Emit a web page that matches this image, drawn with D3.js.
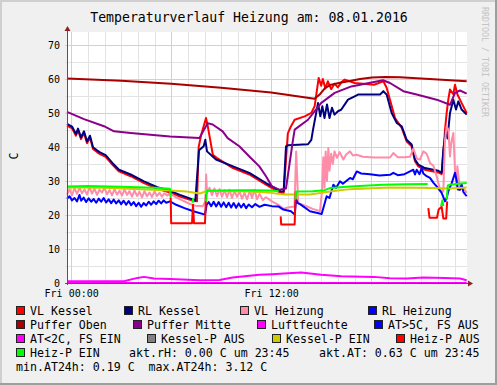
<!DOCTYPE html>
<meta charset="utf-8">
<style>
body { margin: 0; background: #f0f0f0; }
svg text { font-family: "DejaVu Sans Mono", monospace; fill: #000; }
.legend text { font-size: 11.6px; }
.grid line { shape-rendering: crispEdges; }
.grid .domain { display: none; }
.series { fill: none; stroke-width: 2; stroke-linejoin: round; }
</style>
<svg id="chart" width="497" height="385"></svg>
<script src="https://d3js.org/d3.v7.min.js"></script>
<script>

// hours since 00:00, value in C
var vlKessel = [[-0.25,46.3],[0.05,45.5],[0.29,43.3],[0.41,44.9],[0.59,42.3],[0.77,44.1],[0.95,41.1],[1.13,42.8],[1.31,39.4],[1.55,38.5],[1.73,37.9],[2.07,37.1],[2.47,34.8],[2.87,32.8],[3.57,31.4],[4.37,29.4],[5.17,27.7],[5.93,26.6],[6.53,25.4],[7.33,24.2],[7.55,24.0],[7.65,40.0],[7.8,43.5],[8.09,48.5],[8.2,46],[8.5,37.7],[8.73,36.8],[9.71,33.8],[10.69,31.9],[11.69,28.9],[12.05,27.9],[12.61,26.4],[12.75,26.5],[13.0,44.0],[13.19,46.1],[13.41,48.0],[14.01,49.0],[14.41,50.0],[14.61,52],[14.85,60.3],[15.0,58],[15.1,60.0],[15.25,57.2],[15.4,59.3],[15.6,57.0],[15.8,58.6],[16.0,57.5],[16.21,59.0],[16.41,59.8],[17.01,58.8],[18.17,58.3],[18.73,59.3],[18.93,57.4],[19.13,53.9],[19.43,48.5],[19.83,45.6],[20.13,41.6],[20.43,40.2],[20.63,35.8],[20.83,34.3],[21.23,33.3],[21.73,32.8],[22.03,32.5],[22.23,32.0],[22.33,38],[22.43,45],[22.53,50.0],[22.63,54],[22.73,56.9],[22.93,55.5],[23.03,58.3],[23.17,55.5],[23.43,52.9],[23.73,50.0]];

var rlKessel = [[-0.25,46.8],[0.05,46.0],[0.29,43.8],[0.41,45.4],[0.59,42.8],[0.77,44.6],[0.95,41.6],[1.13,43.3],[1.31,39.9],[1.55,39.0],[1.73,38.4],[2.07,37.6],[2.47,35.3],[2.87,33.3],[3.57,31.9],[4.37,29.9],[5.17,28.2],[5.93,27.1],[6.53,25.9],[7.33,24.5],[7.45,24.2],[7.67,39.0],[7.95,40.2],[8.05,42.1],[8.15,38.7],[8.69,36.3],[9.71,34.3],[10.69,32.4],[11.69,29.4],[12.05,28.4],[12.61,26.9],[12.75,27.0],[12.89,40.2],[13.01,40.5],[14.21,40.8],[14.41,42.1],[14.51,45],[14.81,52.9],[14.95,49],[15.07,52],[15.2,48.5],[15.35,52.5],[15.5,48.5],[15.65,51.5],[15.8,49.5],[16.01,50.5],[16.21,51.0],[16.61,53.9],[17.01,54.9],[17.21,55.4],[18.53,55.4],[18.73,56.4],[18.93,55.4],[19.23,50.0],[19.53,47.1],[19.83,46.1],[20.13,42.1],[20.43,40.7],[20.63,36.3],[20.83,34.8],[21.23,33.8],[21.73,33.3],[22.03,33.0],[22.23,32.4],[22.33,39.2],[22.49,45.1],[22.58,42.5],[22.73,50.0],[22.93,53.9],[23.09,51.0],[23.23,53.4],[23.43,51.0],[23.73,49.5]];

var vlHeizung = [[-0.25,26.0],[-0.1,27.6],[0.05,25.8],[0.2,27.9],[0.35,26.2],[0.5,28.0],[0.65,26.4],[0.8,27.5],[0.95,26.0],[1.1,28.1],[1.25,26.3],[1.4,27.7],[1.55,25.9],[1.7,27.4],[1.85,26.6],[2.0,28.0],[2.15,26.1],[2.3,27.3],[2.45,25.8],[2.6,27.6],[2.75,26.0],[2.9,27.1],[3.05,25.7],[3.2,27.5],[3.35,25.9],[3.5,27.0],[3.65,25.4],[3.8,27.2],[3.95,25.6],[4.1,26.8],[4.25,25.2],[4.4,27.0],[4.55,25.5],[4.7,26.6],[4.85,25.3],[5.0,26.9],[5.15,25.6],[5.3,26.5],[5.45,25.4],[5.6,26.4],[5.75,25.7],[5.93,26.3],[6.3,25.2],[6.7,24.2],[7.1,23.3],[7.45,22.7],[7.9,22.6],[8.05,24],[8.1,31.9],[8.15,26.5],[8.3,28.0],[8.45,25.8],[8.6,27.8],[8.75,25.5],[8.9,27.6],[9.05,25.4],[9.2,27.3],[9.35,25.2],[9.5,27.4],[9.65,25.0],[9.8,27.0],[9.95,25.3],[10.1,26.9],[10.25,24.8],[10.4,26.5],[10.55,24.6],[10.73,27.2],[10.85,25.0],[11.0,27.4],[11.15,24.6],[11.3,26.2],[11.5,24.4],[11.69,25.2],[12.05,24.0],[12.43,23.0],[12.73,21.8],[13.0,22.2],[13.4,22.5],[13.5,38.7],[13.57,30],[13.62,23.5],[14.0,22.8],[14.5,21.8],[14.93,21.1],[15.05,27],[15.13,37],[15.2,28],[15.27,38.7],[15.35,30],[15.43,39.7],[15.5,33],[15.6,38],[15.7,35],[15.8,38.7],[15.95,36.8],[16.1,38.5],[16.33,36.3],[16.5,37.8],[16.73,38.7],[16.9,37.5],[17.13,37.7],[17.5,37.1],[18.2,36.9],[19.13,36.9],[19.33,38.2],[19.6,37.0],[20.0,37.0],[20.33,37.1],[20.53,39.5],[20.75,36.5],[20.93,36.3],[21.13,38.7],[21.33,38.0],[21.53,35.3],[21.73,34.5],[21.93,31.4],[22.13,27.4],[22.33,26.9],[22.43,42.1],[22.53,46.1],[22.63,45.1],[22.73,37.2],[22.8,41],[22.93,44.1],[23.03,33.3],[23.13,28.4],[23.17,34.3],[23.33,27.4],[23.53,28],[23.73,26.5]];

var rlHeizung = [[-0.25,24.8],[-0.1,25.5],[0.05,24.3],[0.2,25.0],[0.35,24.0],[0.5,25.9],[0.6,24.2],[0.75,25.1],[0.9,23.8],[1.05,24.9],[1.2,23.9],[1.35,24.7],[1.5,23.6],[1.65,24.8],[1.8,23.9],[1.95,25.0],[2.1,23.7],[2.25,24.6],[2.4,23.5],[2.55,24.5],[2.7,23.4],[2.85,24.3],[3.0,23.2],[3.15,24.2],[3.3,23.0],[3.45,24.1],[3.6,22.9],[3.75,23.8],[3.9,22.6],[4.05,23.6],[4.2,22.4],[4.35,23.5],[4.5,22.8],[4.65,23.9],[4.8,23.0],[4.95,24.0],[5.1,23.2],[5.25,24.2],[5.4,23.4],[5.55,24.3],[5.7,23.6],[5.93,24.0],[6.3,23.0],[6.8,22.0],[7.33,21.1],[8.03,20.1],[8.13,23.0],[8.25,23.8],[8.4,22.6],[8.55,23.9],[8.7,22.5],[8.85,23.8],[9.0,22.4],[9.15,23.7],[9.3,22.3],[9.45,23.6],[9.6,22.2],[9.75,23.5],[9.9,22.1],[10.05,23.4],[10.2,22.2],[10.35,23.3],[10.5,22.0],[10.65,23.1],[10.85,22.3],[11.05,23.2],[11.3,22.4],[11.6,23.0],[12.05,22.6],[12.43,22.5],[12.73,21.6],[13.19,21.1],[13.41,20.1],[13.5,24.5],[13.6,23.5],[13.73,23.2],[14.33,21.1],[15.03,20.3],[15.33,25.5],[15.5,25.0],[15.73,28.9],[15.9,28.0],[16.13,29.9],[16.3,29.2],[16.73,30.9],[16.9,30.5],[17.13,32.8],[17.4,32.2],[17.93,32.0],[18.5,31.6],[19.13,31.8],[19.33,32.4],[19.6,31.7],[20.0,32.0],[20.33,32.8],[20.53,33.3],[20.63,31.9],[20.73,33.3],[20.9,32.0],[21.03,33.8],[21.13,32.2],[21.33,31.4],[21.53,30.9],[21.73,29.5],[21.93,28.4],[22.23,26.5],[22.43,24.0],[22.53,25.0],[22.63,27.0],[22.83,29.3],[23.03,32.4],[23.13,30],[23.2,27.5],[23.33,27.4],[23.43,29],[23.53,26.8],[23.73,25.5]];

var pufferOben = [[-0.25,60.1],[3,59.5],[6,58.6],[9,57.4],[12,56.0],[14.6,54.2],[14.93,55.5],[15.23,57.3],[15.53,58.2],[16.13,58.9],[16.73,59.4],[17.33,60.0],[18.05,60.4],[18.83,60.6],[19.73,60.5],[21.5,60.0],[23.73,59.3]];

var pufferMitte = [[-0.25,50.3],[0.77,48.2],[1.97,46.1],[2.57,44.6],[3.57,44.1],[5.93,43.1],[7.69,42.6],[8.19,47.0],[8.49,46.6],[9.09,44.6],[9.39,42.6],[10.09,40.2],[10.69,37.2],[11.29,34.3],[11.69,31.4],[12.05,28.4],[12.51,27.4],[12.89,27.8],[13.31,42.1],[13.41,45.1],[14.21,48.0],[14.99,52.9],[15.81,55.9],[16.81,57.8],[18.17,59.1],[18.71,59.6],[19.13,58.8],[19.93,56.4],[20.73,55.4],[21.93,53.9],[22.73,52.4],[23.03,55.9],[23.33,56.6],[23.73,55.7]];

var luftfeuchte = [[-0.25,0],[23.73,0]];

var atKalt = [[-0.25,0.5],[3.17,0.5],[3.97,1.5],[4.37,1.8],[4.97,1.3],[5.93,1.2],[7.73,0.8],[8.9,0.9],[9.69,1.6],[11.29,2.4],[12.05,2.6],[13.01,2.9],[13.81,3.1],[15.0,2.4],[16.21,2.0],[18.17,1.8],[19.13,1.4],[20.13,1.3],[21.13,1.6],[22.43,1.5],[23.33,1.3],[23.73,0.8]];

var kesselPEin = [[-0.25,28.1],[2,28.0],[4.5,27.5],[5.93,27.2],[6.93,26.9],[7.73,26.3],[8.15,27.1],[9.5,27.0],[10.73,26.9],[12.0,26.5],[12.73,26.0],[14.33,26.0],[15.53,26.9],[16.73,27.6],[19.13,28.1],[20.73,28.0],[22.73,27.8],[23.73,28.1]];

var heizPAus = [[5.97,25.0],[6.0,17.6],[7.25,17.6],[7.31,23.0],[7.37,17.6],[8.03,17.6],[8.09,26.0],[8.1,null],
  [12.57,19.6],[12.6,17.2],[13.41,17.2],[13.47,26.9],[13.5,null],
  [21.43,22.0],[21.5,19.2],[21.95,19.2],[22.05,21.6],[22.23,22.4],[22.33,19.0],[22.5,19.0],[22.56,24]];

var heizPEin = [[-0.25,28.4],[1,28.5],[3,28.3],[5,28.0],[5.93,27.7],[5.97,25.0],[6.0,null],
  [7.28,23.6],[7.31,24.8],[7.34,23.6],[7.4,null],
  [8.09,24.0],[8.15,27.1],[9,27.2],[10,27.3],[11,27.3],[12,27.2],[12.45,27.0],[12.5,null],
  [13.45,24.5],[13.5,26.9],[14.5,27.0],[15.2,27.3],[15.53,27.9],[16.73,28.4],[18.7,28.9],[20,29.0],[21.39,29.1],[21.45,null],
  [22.2,22.6],[22.27,24.3],[22.33,22.6],[22.4,null],
  [22.53,24.5],[22.6,28.7],[22.73,28.9],[23.2,29.2],[23.73,29.4]];

var legendLabels = ["VL Kessel","RL Kessel","VL Heizung","RL Heizung",
  "Puffer Oben","Puffer Mitte","Luftfeuchte","AT>5C, FS AUS",
  "AT<2C, FS EIN","Kessel-P AUS","Kessel-P EIN","Heiz-P AUS",
  "Heiz-P EIN"];
var legendColors = ["#ff0000","#000080","#ff8ca8","#0000ff",
  "#a80000","#8b008b","#ff00ff","#0000ff",
  "#ff00ff","#808080","#cccc00","#ff0000",
  "#00ff00"];
var infoTexts = ["akt.rH: 0.00 C um 23:45", "akt.AT: 0.63 C um 23:45",
  "min.AT24h: 0.19 C  max.AT24h: 3.12 C"];

var yTicks = [0, 10, 20, 30, 40, 50, 60, 70];
var xLabelHours = [0, 12];
var xLabels = ["Fri 00:00", "Fri 12:00"];

var title = "Temperaturverlauf Heizung am: 08.01.2016";

// ---- layout
var W = 497, H = 385;
var plotL = 67, plotR = 467, plotT = 32, plotB = 283;

var svg = d3.select("#chart");

svg.append("rect").attr("width", W).attr("height", H).attr("fill", "#f0f0f0");
// 3d frame
svg.append("rect").attr("x", 0).attr("y", 0).attr("width", W).attr("height", 2).attr("fill", "#cfcfcf");
svg.append("rect").attr("x", 0).attr("y", 0).attr("width", 2).attr("height", H).attr("fill", "#cfcfcf");
svg.append("rect").attr("x", 0).attr("y", H - 2).attr("width", W).attr("height", 2).attr("fill", "#9e9e9e");
svg.append("rect").attr("x", W - 2).attr("y", 0).attr("width", 2).attr("height", H).attr("fill", "#9e9e9e");

svg.append("rect").attr("x", plotL).attr("y", plotT)
    .attr("width", plotR - plotL).attr("height", plotB - plotT).attr("fill", "#fff");

var x = d3.scaleLinear().domain([-0.25, 23.75]).range([plotL, plotR]);
var y = d3.scaleLinear().domain([0, 73.8]).range([plotB, plotT]);

// grid
var minorY = d3.range(5, 75, 10);
var minorX = d3.range(1, 24).filter(function(h) { return h % 6 != 0; });
var majorX = [0, 6, 12, 18];

function grid(axis, transform, color) {
  var g = svg.append("g").attr("class", "grid").attr("transform", transform).call(axis);
  g.selectAll("line").attr("stroke", color);
}
grid(d3.axisLeft(y).tickValues(minorY).tickSize(plotR - plotL + 2).tickFormat(""),
     "translate(" + plotR + ",0)", "#e3e3e3");
grid(d3.axisBottom(x).tickValues(minorX).tickSize(plotB - plotT + 2).tickFormat(""),
     "translate(0," + plotT + ")", "#e3e3e3");
grid(d3.axisLeft(y).tickValues(yTicks).tickSize(plotR - plotL + 2).tickFormat(""),
     "translate(" + plotR + ",0)", "#f4c2c2");
grid(d3.axisBottom(x).tickValues(majorX).tickSize(plotB - plotT + 2).tickFormat(""),
     "translate(0," + plotT + ")", "#f4c2c2");

// series, drawn in legend order
var line = d3.line()
    .defined(function(d) { return d[1] != null; })
    .x(function(d) { return x(d[0]); })
    .y(function(d) { return y(d[1]); });

var seriesList = [
  [vlKessel, legendColors[0]],
  [rlKessel, legendColors[1]],
  [vlHeizung, legendColors[2]],
  [rlHeizung, legendColors[3]],
  [pufferOben, legendColors[4]],
  [pufferMitte, legendColors[5]],
  [luftfeuchte, legendColors[6]],
  [atKalt, legendColors[8]],
  [kesselPEin, legendColors[10]],
  [heizPAus, legendColors[11]],
  [heizPEin, legendColors[12]]
];

svg.append("g").selectAll("path")
  .data(seriesList)
  .enter().append("path")
    .attr("class", "series")
    .attr("stroke", function(d) { return d[1]; })
    .attr("d", function(d) { return line(d[0]); });

// axes
var yAxis = svg.append("g")
    .attr("transform", "translate(" + plotL + ",0)")
    .call(d3.axisLeft(y).tickValues(yTicks).tickSize(0).tickPadding(7));
yAxis.select(".domain").remove();

var xAxis = svg.append("g")
    .attr("transform", "translate(0," + plotB + ")")
    .call(d3.axisBottom(x).tickValues(xLabelHours).tickSize(0).tickPadding(7)
      .tickFormat(function(d, i) { return xLabels[i]; }));
xAxis.select(".domain").remove();
svg.selectAll(".tick text").attr("font-family", "DejaVu Sans Mono").attr("font-size", 10).attr("fill", "#000");

svg.append("line").attr("x1", plotL + 0.5).attr("x2", plotL + 0.5)
    .attr("y1", plotB + 2).attr("y2", plotT - 3).attr("stroke", "#555");
svg.append("line").attr("x1", plotL - 2).attr("x2", plotR + 3)
    .attr("y1", plotB + 0.5).attr("y2", plotB + 0.5).attr("stroke", "#555");
svg.append("path").attr("fill", "#902020")
    .attr("d", "M" + (plotL - 2.5) + "," + (plotT - 1) + "L" + (plotL + 0.5) + "," + (plotT - 6) + "L" + (plotL + 3.5) + "," + (plotT - 1) + "Z");
svg.append("path").attr("fill", "#902020")
    .attr("d", "M" + (plotR + 1) + "," + (plotB - 2.5) + "L" + (plotR + 6) + "," + (plotB + 0.5) + "L" + (plotR + 1) + "," + (plotB + 3.5) + "Z");

// titles
svg.append("text").attr("x", 249).attr("y", 17).attr("dy", "0.35em")
    .attr("text-anchor", "middle").style("font-size", "13.2px").text(title);
svg.append("text").attr("transform", "translate(14,156) rotate(-90)")
    .attr("text-anchor", "middle").attr("dy", "0.35em").style("font-size", "11.6px").text("C");
svg.append("text").attr("transform", "translate(485,7) rotate(90)")
    .attr("dy", "0.35em").style("font-size", "8.3px").style("fill", "#c4c4c4")
    .text("RRDTOOL / TOBI OETIKER");

// legend
var rowY = [311, 325, 339, 353, 367];
var boxX = [16, 124, 240, 368, 16, 133, 257, 374, 16, 147, 272, 396, 16];

var legend = svg.append("g").attr("class", "legend");
legendLabels.forEach(function(label, i) {
  var r = Math.floor(i / 4), bx = boxX[i], cy = rowY[r];
  legend.append("rect").attr("x", bx + 0.5).attr("y", cy - 4.5)
      .attr("width", 8).attr("height", 8)
      .attr("fill", legendColors[i]).attr("stroke", "#222");
  legend.append("text").attr("x", bx + 14).attr("y", cy).attr("dy", "0.35em").text(label);
});
legend.append("text").attr("x", 129).attr("y", rowY[3]).attr("dy", "0.35em").text(infoTexts[0]);
legend.append("text").attr("x", 319).attr("y", rowY[3]).attr("dy", "0.35em").text(infoTexts[1]);
legend.append("text").attr("x", 16).attr("y", rowY[4]).attr("dy", "0.35em")
    .style("white-space", "pre").text(infoTexts[2]);

</script>
